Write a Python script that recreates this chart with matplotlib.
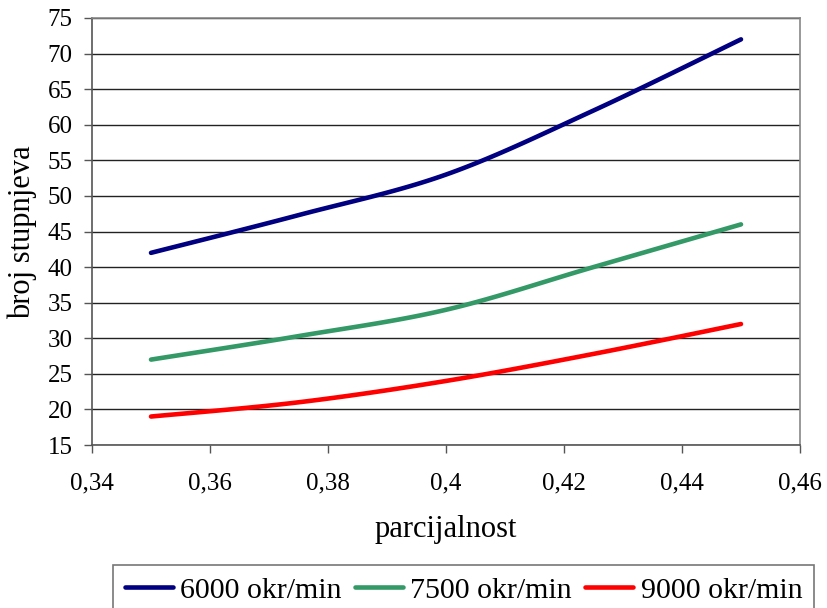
import numpy as np
import matplotlib
matplotlib.use("Agg")
import matplotlib.pyplot as plt
from matplotlib.ticker import FuncFormatter

# values
parcijalnost = [0.35, 0.375, 0.40, 0.425, 0.45]
okr_6000 = [42, 47.3, 53, 62, 72]
okr_7500 = [27, 30.3, 34, 40, 46]
okr_9000 = [19, 21, 24, 27.8, 32]

series = [
    ("6000 okr/min", okr_6000, "#000080"),
    ("7500 okr/min", okr_7500, "#339966"),
    ("9000 okr/min", okr_9000, "#ff0000"),
]

W, H = 827, 608


def smooth(x, y, n=30):
    # Excel-like smoothed line: cubic Bezier segments, Catmull-Rom tangents
    p = np.column_stack([x, y]).astype(float)
    pts = []
    for i in range(len(p) - 1):
        p0 = p[i - 1] if i > 0 else p[i]
        p3 = p[i + 2] if i + 2 < len(p) else p[i + 1]
        c1 = p[i] + (p[i + 1] - p0) / 6
        c2 = p[i + 1] - (p3 - p[i]) / 6
        t = np.linspace(0, 1, n)[:, None]
        seg = ((1 - t) ** 3 * p[i] + 3 * (1 - t) ** 2 * t * c1
               + 3 * (1 - t) * t ** 2 * c2 + t ** 3 * p[i + 1])
        pts.append(seg if i == 0 else seg[1:])
    pts = np.vstack(pts)
    return pts[:, 0], pts[:, 1]


plt.rcParams["font.family"] = ["Liberation Serif", "DejaVu Serif"]

fig = plt.figure(figsize=(W / 100, H / 100), dpi=100)
ax = fig.add_axes([92 / W, 1 - 445 / H, (800 - 92) / W, (445 - 18) / H])

for name, vals, col in series:
    sx, sy = smooth(parcijalnost, vals)
    ax.plot(sx, sy, color=col, lw=3.3, solid_capstyle="round", label=name)

ax.set_xlim(0.34, 0.46)
ax.set_ylim(15, 75)
ax.set_xticks(np.arange(0.34, 0.4601, 0.02))
ax.set_yticks(np.arange(15, 76, 5))
ax.xaxis.set_major_formatter(FuncFormatter(lambda v, p: ("%g" % round(v, 2)).replace(".", ",")))
ax.tick_params(labelsize=18, direction="out", length=6, width=1, color="#555555")
ax.tick_params(axis="x", pad=14)
ax.tick_params(axis="y", pad=8)
ax.grid(axis="y", color="#222222", lw=1)
ax.set_axisbelow(True)
for s in ["top", "right"]:
    ax.spines[s].set_color("#888888")
for s in ["left", "bottom"]:
    ax.spines[s].set_color("#555555")
for s in ax.spines.values():
    s.set_linewidth(1.2)

fig.text(446 / W, 1 - 530 / H, "parcijalnost", fontsize=22, ha="center", va="center")
fig.text(22 / W, 1 - 232 / H, "broj stupnjeva", fontsize=22, ha="center", va="center",
         rotation=90)

leg = fig.legend(loc="upper left", bbox_to_anchor=(113 / W, 1 - 565 / H), ncol=3,
                 fontsize=21.5, frameon=True, fancybox=False, handlelength=1.6,
                 handletextpad=0.25, columnspacing=0.45, borderpad=0.4, borderaxespad=0)
leg.get_frame().set_edgecolor("#555555")
leg.get_frame().set_linewidth(1.2)

fig.savefig("out.png", dpi=100)
